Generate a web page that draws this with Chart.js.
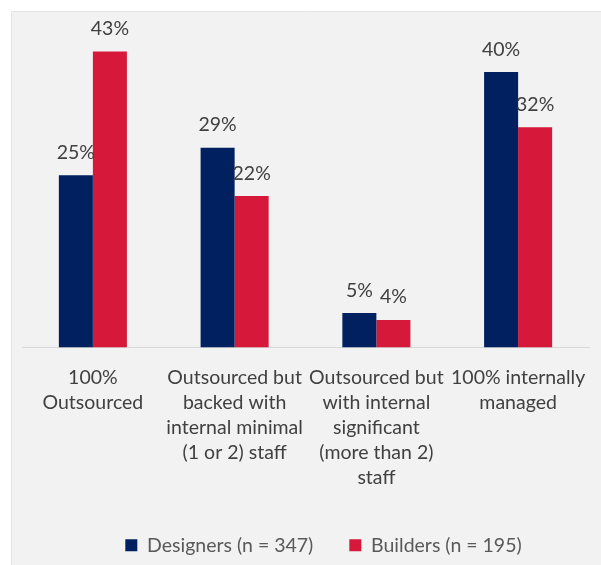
<!DOCTYPE html>
<html>
<head>
<meta charset="utf-8">
<script src="https://cdn.jsdelivr.net/npm/chart.js@4"></script>
<style>
  html, body { margin: 0; padding: 0; background: #ffffff; }
  #wrap { width: 601px; height: 565px; }
</style>
</head>
<body>
<div id="wrap"><canvas id="c" width="601" height="565"></canvas></div>
<script>
// Staffing model categories (multi-line labels)
const categories = [
  ["100%", "Outsourced"],
  ["Outsourced but", "backed with", "internal minimal", "(1 or 2) staff"],
  ["Outsourced but", "with internal", "significant", "(more than 2)", "staff"],
  ["100% internally", "managed"]
];
const designers = [25, 29, 5, 40];
const builders = [43, 22, 4, 32];
const seriesNames = ["Designers (n = 347)", "Builders (n = 195)"];

const NAVY = "#002060";
const RED = "#D6183A";
const FONT = "Lato, 'Open Sans', sans-serif";

// light grey panel behind the chart
const panel = {
  id: "panel",
  beforeDraw(chart) {
    const ctx = chart.ctx;
    ctx.save();
    ctx.fillStyle = "#F2F2F2";
    ctx.fillRect(11, 11, chart.width - 11, chart.height - 11);
    ctx.strokeStyle = "#E4E4E4";
    ctx.lineWidth = 1;
    ctx.beginPath();
    ctx.moveTo(11.5, chart.height);
    ctx.lineTo(11.5, 11.5);
    ctx.lineTo(chart.width, 11.5);
    ctx.stroke();
    ctx.restore();
  }
};

// nudge the legend row a little to the right
const legendShift = {
  id: "legendShift",
  afterLayout(chart) {
    if (chart.legend) {
      chart.legend.left += 18;
      chart.legend.right += 18;
    }
  }
};

// percentage labels above each bar
const valueLabels = {
  id: "valueLabels",
  afterDatasetsDraw(chart) {
    const ctx = chart.ctx;
    ctx.save();
    ctx.font = "19.5px " + FONT;
    ctx.fillStyle = "#404040";
    ctx.textAlign = "center";
    ctx.textBaseline = "bottom";
    chart.data.datasets.forEach((ds, i) => {
      chart.getDatasetMeta(i).data.forEach((bar, j) => {
        ctx.fillText(ds.data[j] + "%", bar.x, bar.y - 13);
      });
    });
    ctx.restore();
  }
};

new Chart(document.getElementById("c"), {
  type: "bar",
  data: {
    labels: categories,
    datasets: [
      { label: seriesNames[0], data: designers, backgroundColor: NAVY },
      { label: seriesNames[1], data: builders, backgroundColor: RED }
    ]
  },
  options: {
    responsive: false,
    devicePixelRatio: 1,
    animation: false,
    layout: { padding: { left: 22, right: 12, top: 17, bottom: 0 } },
    datasets: { bar: { categoryPercentage: 0.48, barPercentage: 1.0 } },
    scales: {
      x: {
        grid: { display: false, drawTicks: false },
        border: { display: true, color: "#D9D9D9", width: 1 },
        ticks: {
          color: "#404040",
          font: { family: FONT, size: 19.5, lineHeight: "25px" },
          padding: 18,
          maxRotation: 0,
          autoSkip: false
        },
        afterFit(scale) {
          scale.height -= 9;
          scale.paddingLeft = 0;
          scale.paddingRight = 0;
        }
      },
      y: {
        display: false,
        min: 0,
        max: 48
      }
    },
    plugins: {
      legend: {
        position: "bottom",
        labels: {
          color: "#595959",
          font: { family: FONT, size: 19.5 },
          boxWidth: 12,
          boxHeight: 12,
          padding: 36
        }
      },
      tooltip: { enabled: false }
    }
  },
  plugins: [panel, legendShift, valueLabels]
});
</script>
</body>
</html>
